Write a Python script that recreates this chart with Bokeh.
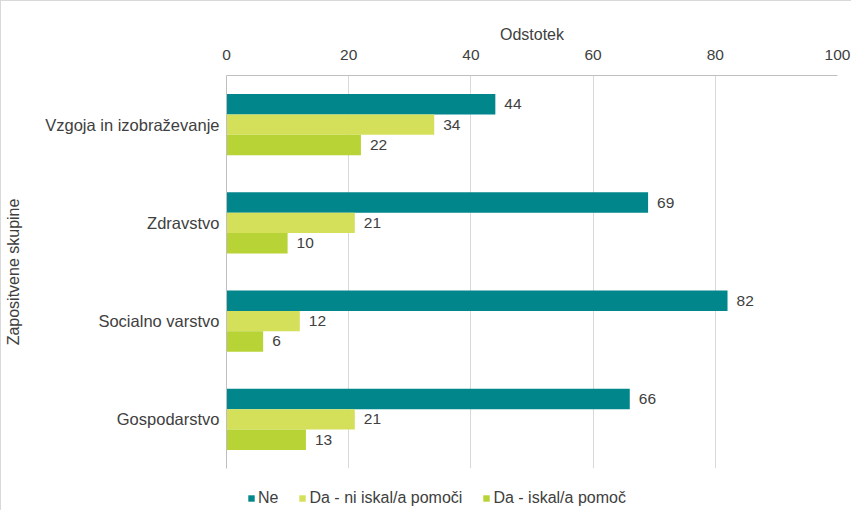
from bokeh.plotting import figure
from bokeh.layouts import column
from bokeh.models import FactorRange, Legend, LegendItem, ColumnDataSource, Range1d, FixedTicker
from bokeh.transform import dodge
from bokeh.core.properties import value
from bokeh.embed import file_html
from bokeh.resources import INLINE

categories = ["Vzgoja in izobraževanje", "Zdravstvo", "Socialno varstvo", "Gospodarstvo"]
series = ["Ne", "Da - ni iskal/a pomoči", "Da - iskal/a pomoč"]
ne = [44, 69, 82, 66]
da_ni = [34, 21, 12, 21]
da_iskal = [22, 10, 6, 13]
x_ticks = [0, 20, 40, 60, 80, 100]
colors = ["#00868B", "#D4E05A", "#B7D336"]

FONT = "Liberation Sans"
TXT = "#404040"
FS = "16px"

src = ColumnDataSource(dict(
    cat=categories,
    ne=ne, da_ni=da_ni, da_iskal=da_iskal,
    ne_t=[str(v) for v in ne],
    da_ni_t=[str(v) for v in da_ni],
    da_iskal_t=[str(v) for v in da_iskal],
))

p = figure(width=850, height=471,
           y_range=FactorRange(factors=categories[::-1]),
           x_range=Range1d(0, 100),
           x_axis_location="above",
           output_backend="svg", toolbar_location=None,
           min_border_left=225, min_border_right=14,
           min_border_top=74, min_border_bottom=4)

bh = 0.207
offsets = [bh, 0.0, -bh]
fields = ["ne", "da_ni", "da_iskal"]
for f, off, col in zip(fields, offsets, colors):
    p.hbar(y=dodge("cat", off, range=p.y_range), left=0, right=f, height=bh,
           source=src, fill_color=col, line_color=None)
    p.text(x=f, y=dodge("cat", off, range=p.y_range), text=f + "_t", source=src,
           x_offset=9, text_baseline="middle", text_align="left",
           text_font=value(FONT), text_font_size="15.5px", text_color=TXT)

xa = p.xaxis[0]
xa.ticker = FixedTicker(ticks=x_ticks)
xa.axis_label = "Odstotek"
xa.axis_label_text_font = FONT
xa.axis_label_text_font_style = "normal"
xa.axis_label_text_font_size = FS
xa.axis_label_text_color = TXT
xa.axis_label_standoff = 4
xa.major_label_text_font = FONT
xa.major_label_text_font_size = "15.5px"
xa.major_label_text_color = TXT
xa.major_label_standoff = 16
xa.major_tick_line_color = None
xa.major_tick_out = 0
xa.major_tick_in = 0
xa.minor_tick_line_color = None
xa.axis_line_color = "#bfbfbf"

ya = p.yaxis[0]
ya.axis_label = "Zapositvene skupine"
ya.axis_label_text_font = FONT
ya.axis_label_text_font_style = "normal"
ya.axis_label_text_font_size = FS
ya.axis_label_text_color = TXT
ya.axis_label_standoff = 20
ya.major_label_text_font = FONT
ya.major_label_text_font_size = "16.5px"
ya.major_label_text_color = TXT
ya.major_label_standoff = 7
ya.major_tick_line_color = None
ya.major_tick_out = 0
ya.major_tick_in = 0
ya.minor_tick_line_color = None
ya.axis_line_color = "#bfbfbf"

p.xgrid.grid_line_color = "#d9d9d9"
p.ygrid.grid_line_color = None
p.outline_line_color = None

# legend strip below the chart (its own bars are hidden; only their legend swatches show)
lp = figure(width=850, height=38,
            y_range=FactorRange(factors=categories[::-1]),
            x_range=Range1d(150, 250),
            output_backend="svg", toolbar_location=None, min_border=0)
lp.axis.visible = False
lp.grid.grid_line_color = None
lp.outline_line_color = None
lrs = []
for f, col in zip(fields, colors):
    r = lp.hbar(y="cat", left=0, right=f, height=bh, source=src,
                fill_color=col, line_color=None)
    r.visible = False
    lrs.append(r)
legend = Legend(items=[LegendItem(label=s, renderers=[r]) for s, r in zip(series, lrs)],
                orientation="horizontal", location=(21, 3),
                glyph_width=8, glyph_height=8, label_standoff=3, spacing=20,
                padding=0, margin=0, background_fill_alpha=0, border_line_color=None,
                label_text_font=FONT, label_text_font_size=FS, label_text_color=TXT)
lp.add_layout(legend, "center")

layout = column(p, lp, spacing=0)
layout.styles = {"border-left": "1px solid #d9d9d9", "border-top": "1px solid #d9d9d9"}

open("out.html", "w").write(file_html(layout, INLINE))
